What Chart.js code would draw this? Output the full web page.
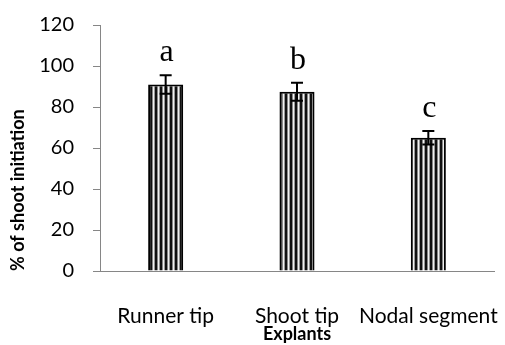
<!DOCTYPE html>
<html>
<head>
<meta charset="utf-8">
<script src="https://cdn.jsdelivr.net/npm/chart.js@4/dist/chart.umd.min.js"></script>
<style>
  html, body { margin: 0; padding: 0; background: #fff; }
  #wrap { width: 505px; height: 345px; }
</style>
</head>
<body>
<div id="wrap"><canvas id="chart" width="505" height="345"></canvas></div>
<script>
const explants = ["Runner tip", "Shoot tip", "Nodal segment"];
const shootInit = [91, 87.4, 65];
const errors = [4.5, 4.4, 3.3];
const letters = ["a", "b", "c"];
const yTicks = [0, 20, 40, 60, 80, 100, 120];

// vertical stripe fill like the excel pattern
function stripes() {
  const c = document.createElement("canvas");
  c.width = 5; c.height = 2;
  const g = c.getContext("2d");
  const cols = ["#111", "#111", "#888", "#f2f2f2", "#999"];
  cols.forEach((col, i) => { g.fillStyle = col; g.fillRect(i, 0, 1, 2); });
  return g.createPattern(c, "repeat");
}

const axisGray = "#868686";

// error bars + significance letters
const errorBars = {
  id: "errorBars",
  afterDatasetsDraw(chart) {
    const ctx = chart.ctx;
    const xs = chart.scales.x, ys = chart.scales.y;
    ctx.save();
    ctx.strokeStyle = "#000";
    ctx.lineWidth = 2;
    shootInit.forEach((v, i) => {
      const x = xs.getPixelForValue(i);
      const top = ys.getPixelForValue(v + errors[i]);
      const bot = ys.getPixelForValue(v - errors[i]);
      ctx.beginPath();
      ctx.moveTo(x, top); ctx.lineTo(x, bot);
      ctx.moveTo(x - 6, top); ctx.lineTo(x + 6, top);
      ctx.moveTo(x - 6, bot); ctx.lineTo(x + 6, bot);
      ctx.stroke();
      ctx.fillStyle = "#000";
      ctx.font = "32px 'Liberation Serif'";
      ctx.textAlign = "center";
      ctx.textBaseline = "alphabetic";
      ctx.fillText(letters[i], x + 1, top - 14);
    });
    ctx.restore();
  }
};

new Chart(document.getElementById("chart"), {
  type: "bar",
  data: {
    labels: explants,
    datasets: [{
      data: shootInit,
      backgroundColor: stripes(),
      borderColor: "#000",
      borderWidth: 2,
      borderSkipped: "bottom",
      categoryPercentage: 1,
      barPercentage: 0.267
    }]
  },
  options: {
    responsive: false,
    animation: false,
    layout: { padding: { top: 25, right: 11, left: 0, bottom: 0 } },
    plugins: { legend: { display: false }, tooltip: { enabled: false } },
    scales: {
      x: {
        grid: { display: false },
        border: { display: true, color: axisGray, width: 1 },
        ticks: {
          color: "#000", padding: 25, maxRotation: 0, minRotation: 0, autoSkip: false,
          font: { family: "Lato", size: 21 }
        },
        title: {
          display: true, text: "Explants", color: "#000",
          font: { family: "Lato", size: 18, weight: "bold" },
          padding: { top: 0, bottom: 0 }
        },
        afterFit(s) {
          s.height = 74;
          s.paddingLeft = 0;
          s.paddingRight = 0;
        }
      },
      y: {
        min: 0, max: 120,
        afterBuildTicks(s) { s.ticks = yTicks.map(v => ({ value: v })); },
        grid: { display: true, drawOnChartArea: false, drawTicks: true, tickLength: 7, color: axisGray },
        border: { display: true, color: axisGray, width: 1 },
        ticks: { color: "#000", padding: 19, font: { family: "Lato", size: 20 } },
        title: {
          display: true, text: "% of shoot initiation", color: "#000", align: "start",
          font: { family: "Lato", size: 18, weight: "bold" },
          padding: { top: 7, bottom: 0 }
        },
        afterFit(s) {
          s.width = 100;
          s.paddingTop = 0;
          s.paddingBottom = 0;
        }
      }
    }
  },
  plugins: [errorBars]
});
</script>
</body>
</html>
